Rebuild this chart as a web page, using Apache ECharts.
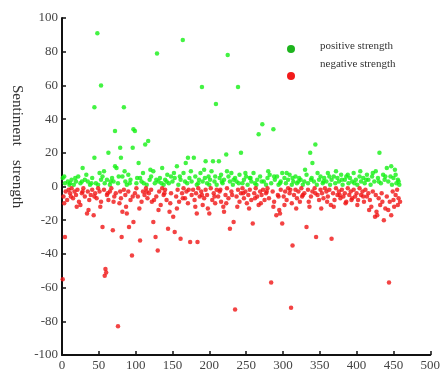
<!DOCTYPE html>
<html><head><meta charset="utf-8">
<script src="https://cdn.jsdelivr.net/npm/echarts@6/dist/echarts.min.js"></script>
<style>html,body{margin:0;padding:0;background:#fff}#c{width:443px;height:378px}</style>
</head><body><div id="c"></div>
<script>
var seriesNames = ['positive strength', 'negative strength'];
var yAxisTitleWords = ['Sentiment', 'strength'];
var positive = [[1,5],[4,2],[8,3],[11,2],[13,4],[16,1],[19,3],[22,6],[25,2],[28,11],[31,4],[35,3],[38,1],[41,5],[44,17],[44,47],[46,2],[48,91],[49,1],[51,8],[53,60],[55,6],[58,2],[61,4],[63,20],[65,1],[68,5],[70,3],[72,12],[72,33],[74,11],[76,2],[79,23],[80,17],[82,6],[84,47],[86,3],[88,1],[90,7],[93,4],[96,23],[97,34],[99,33],[101,2],[104,14],[106,5],[108,3],[110,8],[113,25],[115,1],[117,27],[119,4],[121,6],[124,9],[126,2],[129,79],[131,3],[133,5],[136,11],[138,1],[140,4],[143,7],[145,2],[148,6],[150,3],[153,5],[156,12],[158,1],[161,4],[164,87],[165,8],[168,14],[170,2],[171,17],[173,5],[176,3],[179,17],[181,6],[183,1],[186,4],[188,8],[190,59],[191,3],[193,10],[195,15],[197,2],[199,6],[201,4],[203,9],[205,15],[207,3],[209,49],[210,1],[213,15],[214,5],[216,7],[218,2],[220,4],[223,19],[225,78],[226,6],[228,3],[230,8],[232,1],[235,5],[237,3],[239,59],[241,7],[243,20],[245,2],[247,4],[250,6],[252,1],[255,5],[257,3],[260,8],[262,2],[265,4],[267,31],[269,6],[272,37],[274,3],[277,1],[279,5],[282,7],[284,2],[287,34],[289,4],[292,6],[294,1],[297,3],[299,8],[302,5],[304,2],[307,4],[309,7],[312,1],[314,3],[317,6],[319,2],[322,5],[324,4],[327,1],[329,3],[332,7],[334,2],[337,20],[339,5],[340,14],[342,3],[344,25],[346,1],[349,4],[351,6],[354,2],[356,5],[359,3],[361,8],[364,1],[366,4],[369,6],[371,2],[374,5],[376,3],[379,7],[381,1],[384,4],[386,6],[389,2],[391,5],[394,3],[396,8],[399,4],[401,1],[404,6],[406,3],[409,5],[411,2],[414,7],[416,4],[419,1],[421,6],[424,3],[426,9],[429,5],[431,20],[433,2],[436,7],[438,4],[441,11],[443,3],[446,6],[448,1],[450,5],[452,10],[454,2],[456,4],[458,1],
[3,6],[10,1],[18,5],[27,3],[33,7],[40,2],[53,4],[57,9],[66,3],[77,6],[85,9],[92,2],[102,5],[111,2],[120,10],[128,4],[135,2],[142,3],[152,8],[160,6],[167,3],[175,9],[185,2],[194,5],[200,1],[208,6],[217,3],[224,9],[233,4],[240,2],[249,8],[256,5],[264,1],[271,3],[280,9],[288,6],[296,2],[305,8],[313,5],[321,3],[330,10],[338,4],[347,8],[355,3],[363,6],[372,9],[380,4],[388,7],[397,2],[405,9],[413,4],[422,8],[430,3],[439,6],[447,12],[453,7],[457,3]];
var negative = [[1,-55],[2,-6],[4,-30],[5,-3],[7,-8],[9,-2],[11,-4],[13,-1],[15,-7],[17,-3],[19,-5],[21,-2],[23,-9],[25,-11],[27,-4],[29,-1],[31,-6],[34,-16],[35,-3],[37,-8],[39,-5],[41,-2],[43,-17],[45,-4],[47,-7],[49,-1],[51,-3],[53,-9],[55,-24],[57,-2],[58,-53],[59,-49],[60,-51],[61,-5],[63,-8],[65,-3],[67,-1],[69,-26],[71,-6],[73,-4],[76,-83],[78,-10],[80,-7],[81,-30],[82,-15],[84,-2],[86,-5],[88,-16],[90,-3],[91,-24],[93,-8],[95,-41],[97,-21],[99,-4],[101,-1],[103,-6],[106,-32],[108,-9],[110,-3],[112,-5],[114,-1],[116,-7],[118,-4],[121,-2],[124,-21],[125,-8],[127,-30],[128,-6],[130,-38],[132,-3],[134,-11],[136,-1],[138,-5],[140,-2],[142,-8],[144,-25],[146,-15],[148,-4],[151,-18],[153,-27],[155,-6],[157,-2],[159,-9],[161,-31],[163,-4],[165,-1],[167,-7],[169,-3],[171,-10],[174,-33],[176,-5],[178,-2],[180,-8],[182,-4],[183,-16],[184,-33],[185,-1],[187,-6],[189,-3],[191,-11],[193,-7],[195,-2],[197,-5],[200,-16],[202,-1],[204,-8],[206,-4],[208,-10],[210,-2],[212,-6],[214,-3],[216,-9],[219,-12],[220,-15],[222,-5],[224,-1],[226,-7],[228,-25],[230,-3],[233,-21],[235,-73],[237,-6],[239,-2],[241,-9],[243,-4],[245,-1],[247,-7],[249,-3],[251,-10],[253,-5],[255,-2],[257,-8],[259,-22],[261,-4],[263,-1],[265,-6],[267,-11],[269,-3],[271,-5],[273,-2],[275,-8],[277,-4],[279,-1],[281,-7],[284,-57],[286,-3],[288,-9],[291,-17],[293,-5],[295,-14],[296,-16],[297,-2],[299,-22],[301,-6],[303,-3],[305,-8],[307,-1],[309,-4],[311,-72],[312,-10],[313,-35],[315,-5],[317,-2],[319,-7],[321,-3],[323,-9],[325,-1],[327,-5],[329,-4],[332,-24],[334,-2],[336,-12],[338,-6],[340,-3],[343,-1],[345,-30],[347,-5],[349,-8],[351,-2],[353,-4],[355,-7],[357,-1],[359,-3],[361,-6],[363,-2],[365,-11],[366,-31],[368,-4],[370,-8],[372,-1],[374,-5],[376,-3],[378,-7],[380,-2],[382,-6],[384,-4],[386,-9],[388,-1],[390,-5],[392,-3],[394,-7],[396,-2],[398,-6],[400,-4],[402,-8],[404,-1],[406,-5],[408,-3],[410,-9],[412,-2],[414,-6],[416,-4],[418,-8],[420,-12],[422,-3],[425,-18],[427,-15],[428,-17],[430,-7],[432,-11],[434,-4],[437,-20],[439,-13],[441,-6],[444,-57],[445,-9],[447,-17],[449,-3],[451,-12],[453,-5],[455,-2],[457,-7],[459,-9],
[3,-10],[12,-6],[20,-12],[28,-3],[36,-14],[44,-6],[52,-12],[62,-4],[70,-9],[79,-3],[87,-12],[96,-6],[105,-13],[115,-3],[122,-9],[131,-14],[139,-4],[147,-10],[156,-13],[164,-7],[172,-2],[181,-12],[190,-5],[198,-13],[207,-6],[215,-2],[223,-10],[231,-5],[238,-12],[246,-4],[254,-13],[262,-7],[270,-10],[278,-3],[287,-12],[294,-6],[302,-11],[310,-2],[318,-13],[326,-6],[335,-9],[344,-4],[352,-13],[360,-9],[369,-12],[377,-5],[385,-10],[393,-8],[401,-11],[409,-6],[417,-14],[426,-5],[435,-9],[443,-14],[450,-8],[456,-11]];
var xMin = 0, xMax = 500, xStep = 50;
var yMin = -100, yMax = 100, yStep = 20;

var font = '"Liberation Serif", "DejaVu Serif", serif';
var chart = echarts.init(document.getElementById('c'));
chart.setOption({
  animation: false,
  backgroundColor: '#fff',
  grid: {left: 62, right: 6, top: 18, bottom: 23, containLabel: false},
  xAxis: {
    type: 'value', min: xMin, max: xMax, interval: xStep,
    axisLine: {onZero: false, lineStyle: {color: '#111', width: 2}},
    axisTick: {inside: true, length: 4, lineStyle: {color: '#111', width: 1.5}},
    axisLabel: {color: '#444', fontFamily: font, fontSize: 13, margin: 4},
    splitLine: {show: false}
  },
  yAxis: {
    type: 'value', min: yMin, max: yMax, interval: yStep,
    axisLine: {onZero: false, lineStyle: {color: '#111', width: 2}},
    axisTick: {inside: true, length: 4, lineStyle: {color: '#111', width: 1.5}},
    axisLabel: {color: '#444', fontFamily: font, fontSize: 13, margin: 4},
    splitLine: {show: false}
  },
  series: [
    {name: seriesNames[0], type: 'scatter', data: positive, symbolSize: 4.5,
     itemStyle: {color: '#14f014'}},
    {name: seriesNames[1], type: 'scatter', data: negative, symbolSize: 4.5,
     itemStyle: {color: '#f01414'}}
  ],
  graphic: [
    {type: 'text', x: 24, y: 85, rotation: -Math.PI/2,
     style: {text: yAxisTitleWords[0], fill: '#333', font: '15px ' + font}},
    {type: 'text', x: 24, y: 160, rotation: -Math.PI/2,
     style: {text: yAxisTitleWords[1], fill: '#333', font: '15px ' + font}},
    {type: 'circle', shape: {cx: 291, cy: 49, r: 4}, style: {fill: '#1db41d'}},
    {type: 'circle', shape: {cx: 291, cy: 76, r: 4}, style: {fill: '#f21a1a'}},
    {type: 'text', left: 320, top: 41, style: {text: seriesNames[0], fill: '#333', font: '11px ' + font}},
    {type: 'text', left: 320, top: 59, style: {text: seriesNames[1], fill: '#333', font: '11px ' + font}}
  ]
});
</script></body></html>
